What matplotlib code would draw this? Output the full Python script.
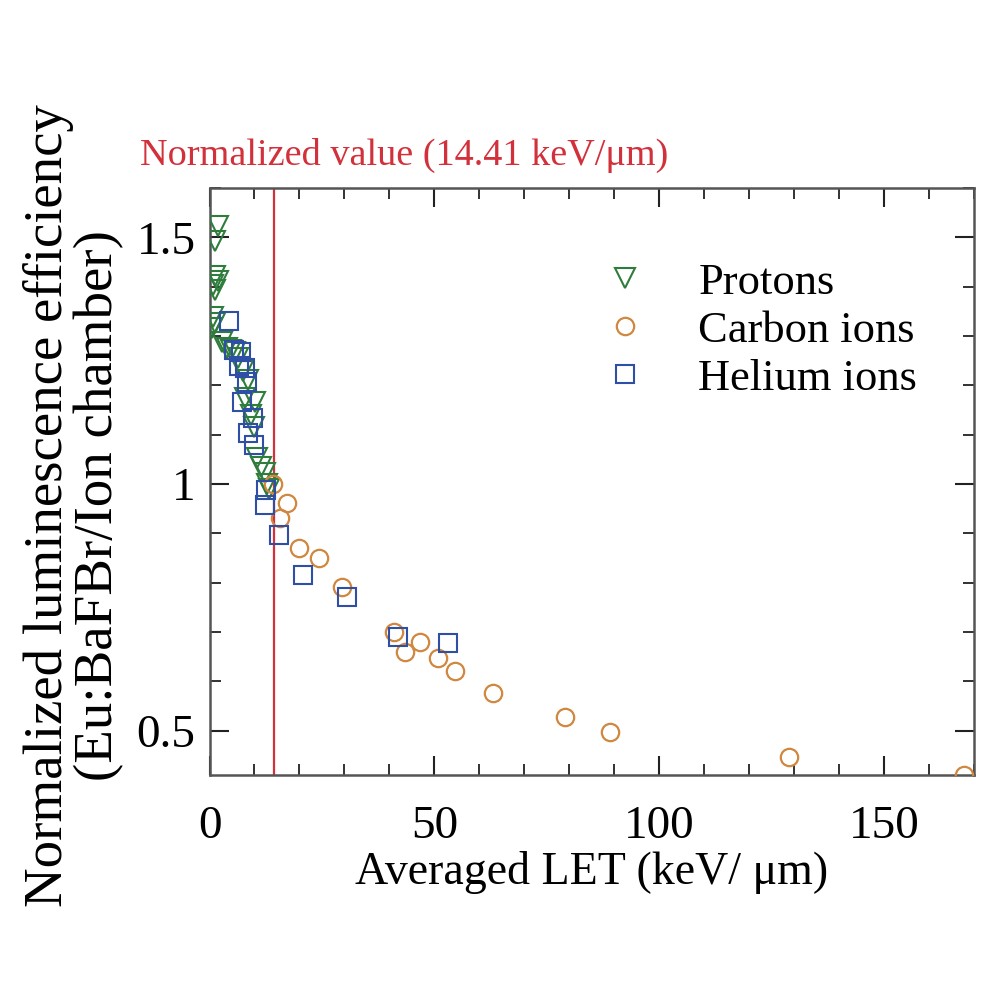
import matplotlib
matplotlib.use("Agg")
import matplotlib.pyplot as plt
from matplotlib.ticker import MultipleLocator

plt.rcParams['font.family'] = ['Liberation Serif', 'DejaVu Serif']
plt.rcParams['mathtext.fontset'] = 'stix'

# Data
proton_let = [1.9, 1.2, 1.2, 1.9, 0.8, 1.2, 0.8, 1.2, 0.6, 2.8, 3.8, 4.8, 5.7, 6.4,
              7.5, 8.6, 8.0, 10.1, 9.3, 10.0, 10.5, 11.5, 12.3, 12.8, 13.2]
proton_eff = [1.522, 1.492, 1.421, 1.411, 1.404, 1.394, 1.339, 1.327, 1.316, 1.287,
              1.276, 1.272, 1.268, 1.256, 1.230, 1.211, 1.175, 1.167, 1.140, 1.115,
              1.053, 1.035, 1.022, 1.000, 0.990]

carbon_let = [14.1, 17.2, 15.6, 19.9, 24.3, 29.4, 41.0, 43.4, 46.7, 50.7, 54.7,
              63.1, 79.1, 89.0, 128.8, 167.7]
carbon_eff = [1.000, 0.961, 0.931, 0.870, 0.850, 0.791, 0.699, 0.659, 0.679, 0.648,
              0.620, 0.577, 0.528, 0.498, 0.447, 0.409]

helium_let = [4.3, 5.5, 6.9, 6.5, 8.0, 8.3, 7.2, 9.6, 8.5, 9.8, 12.5, 12.3, 15.4,
              20.8, 30.5, 42.0, 53.1]
helium_eff = [1.331, 1.272, 1.268, 1.240, 1.236, 1.207, 1.167, 1.134, 1.104, 1.079,
              0.988, 0.957, 0.896, 0.815, 0.770, 0.689, 0.677]

norm_let = 14.41

fig = plt.figure(figsize=(10, 10), dpi=100)
ax = fig.add_axes([0.2095, 0.225, 0.7645, 0.587])

green = '#2f7d3c'
orange = '#d0873f'
blue = '#2f4ea6'
red = '#d2303a'

ax.axvline(norm_let, color=red, lw=1.6, zorder=1)

ax.plot(proton_let, proton_eff, linestyle='none', marker='v', ms=14, mfc='none',
        mec=green, mew=1.5, label='Protons', zorder=3)
ax.plot(carbon_let, carbon_eff, linestyle='none', marker='o', ms=12.5, mfc='none',
        mec=orange, mew=1.6, label='Carbon ions', zorder=3)
ax.plot(helium_let, helium_eff, linestyle='none', marker='s', ms=12.5, mfc='none',
        mec=blue, mew=1.5, label='Helium ions', zorder=3)

ax.set_xlim(0, 170)
ax.set_ylim(0.41, 1.6)
ax.xaxis.set_major_locator(MultipleLocator(50))
ax.xaxis.set_minor_locator(MultipleLocator(10))
ax.yaxis.set_minor_locator(MultipleLocator(0.1))
ax.set_yticks([0.5, 1.0, 1.5])
ax.set_yticklabels(['0.5', '1', '1.5'])

ax.tick_params(which='both', direction='in', top=True, right=True, color='#222222')
ax.tick_params(which='major', length=14, width=1.5, labelsize=34)
ax.tick_params(axis='x', which='major', pad=22)
ax.tick_params(axis='y', which='major', pad=10)
ax.tick_params(which='minor', length=8, width=1.3)
for s in ax.spines.values():
    s.set_color('#555555')
    s.set_linewidth(1.8)

ax.set_xlabel('Averaged LET (keV/ μm)', fontsize=33, labelpad=2)
ax.set_ylabel('Normalized luminescence efficiency\n(Eu:BaFBr/Ion chamber)',
              fontsize=39.5, linespacing=1.0)
ax.yaxis.set_label_coords(-0.111, 0.459)

fig.text(0.14, 0.845, 'Normalized value (14.41 keV/μm)', color=red, fontsize=27.5,
         ha='left', va='center')

leg = ax.legend(loc='upper left', bbox_to_anchor=(0.50, 0.873), frameon=False,
                fontsize=32, handletextpad=0.9, labelspacing=0.18, borderaxespad=0,
                borderpad=0, handlelength=1.5)

fig.savefig('out.png', dpi=100, facecolor='white')
